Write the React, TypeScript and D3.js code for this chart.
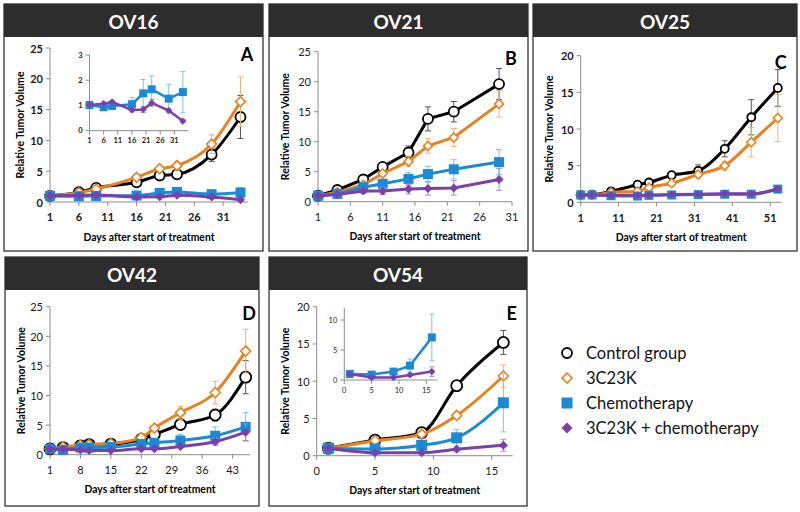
import * as d3 from "d3";

// ---- data ----
const ov16Days = [1, 6, 9, 16, 20, 23, 29, 34];
const ov16Control = [1, 1.6, 2.3, 3.2, 4.3, 4.5, 7.7, 13.8];
const ov16ControlErr = [0, 0.2, 0.3, 0.3, 0.4, 0.4, 1.1, 3.5];
const ov16K = [1, 1.5, 2.1, 4.0, 5.4, 5.9, 9.4, 16.3];
const ov16KErr = [0, 0.2, 0.3, 0.5, 0.5, 0.7, 1.5, 4.0];
const ov16Chemo = [1.02, 0.93, 0.98, 1.05, 1.48, 1.64, 1.27, 1.53];
const ov16ChemoErr = [0.05, 0.08, 0.1, 0.27, 0.55, 0.53, 0.57, 0.82];
const ov16Combo = [1.02, 1.07, 1.14, 0.82, 0.84, 1.1, 0.8, 0.38];
const ov16ComboErr = [0.05, 0.06, 0.06, 0.08, 0.12, 0.13, 0.08, 0.06];

const ov21Days = [1, 4, 8, 11, 15, 18, 22, 29];
const ov21Control = [1, 1.95, 3.7, 5.8, 8.2, 13.8, 15.0, 19.6];
const ov21ControlErr = [0, 0.2, 0.3, 0.4, 1.1, 2.0, 1.7, 2.6];
const ov21K = [1, 1.6, 2.8, 4.7, 6.7, 9.3, 10.7, 16.3];
const ov21KErr = [0, 0.2, 0.3, 0.5, 0.8, 1.2, 1.5, 2.2];
const ov21Chemo = [1, 1.3, 2.4, 3.0, 3.8, 4.6, 5.4, 6.6];
const ov21ChemoErr = [0, 0.2, 0.4, 0.6, 1.1, 1.3, 1.6, 2.1];
const ov21Combo = [1, 1.2, 1.8, 1.8, 2.1, 2.2, 2.3, 3.7];
const ov21ComboErr = [0, 0.2, 0.4, 0.6, 0.8, 1.1, 1.2, 1.8];

const ov25Days = [1, 4, 9, 16, 19, 25, 32, 39, 46, 53];
const ov25Control = [1, 1.05, 1.5, 2.4, 2.7, 3.7, 4.3, 7.3, 11.6, 15.6];
const ov25ControlErr = [0, 0.1, 0.2, 0.3, 0.3, 0.4, 0.8, 1.1, 2.4, 2.5];
const ov25K = [1, 1.0, 1.35, 1.5, 2.0, 2.6, 3.8, 5.0, 8.2, 11.5];
const ov25KErr = [0, 0.1, 0.15, 0.2, 0.3, 0.4, 0.5, 0.6, 2.0, 3.2];
const ov25Chemo = [1, 1, 0.9, 0.85, 0.95, 1.0, 1.05, 1.1, 1.1, 1.8];
const ov25ChemoErr = [0, 0.05, 0.1, 0.1, 0.1, 0.1, 0.1, 0.15, 0.15, 0.2];
const ov25Combo = [1, 1, 0.95, 0.95, 1.0, 1.05, 1.1, 1.15, 1.15, 1.85];
const ov25ComboErr = [0, 0.05, 0.05, 0.05, 0.05, 0.1, 0.1, 0.1, 0.1, 0.15];

const ov42Days = [1, 4, 8, 10, 15, 22, 25, 31, 39, 46];
const ov42Control = [1, 1.2, 1.5, 1.7, 1.8, 2.6, 3.4, 5.1, 6.7, 13.1];
const ov42ControlErr = [0, 0.1, 0.2, 0.2, 0.2, 0.3, 0.4, 0.8, 1.0, 2.8];
const ov42K = [1, 1.3, 1.6, 1.7, 1.9, 2.9, 4.5, 7.1, 10.5, 17.5];
const ov42KErr = [0, 0.1, 0.2, 0.2, 0.2, 0.3, 0.4, 1.1, 1.9, 3.7];
const ov42Chemo = [1, 0.8, 1.2, 1.2, 1.3, 1.8, 2.0, 2.4, 3.2, 4.7];
const ov42ChemoErr = [0, 0.1, 0.2, 0.2, 0.2, 0.3, 0.4, 1.0, 1.5, 2.4];
const ov42Combo = [1, 0.9, 0.8, 0.7, 0.7, 1.0, 1.0, 1.4, 2.2, 3.8];
const ov42ComboErr = [0, 0.1, 0.1, 0.1, 0.1, 0.2, 0.2, 0.3, 0.6, 1.4];

const ov54Days = [1, 5, 9, 12, 16];
const ov54Control = [1, 2.1, 3.1, 9.4, 15.2];
const ov54ControlErr = [0, 0.2, 0.3, 0.7, 1.6];
const ov54K = [1, 2.0, 2.9, 5.4, 10.7];
const ov54KErr = [0, 0.2, 0.3, 0.5, 1.5];
const ov54Chemo = [1, 0.9, 1.4, 2.4, 7.1];
const ov54ChemoErr = [0, 0.1, 0.2, 1.1, 3.9];
const ov54Combo = [1, 0.4, 0.4, 0.85, 1.4];
const ov54ComboErr = [0, 0.1, 0.1, 0.2, 0.8];

const seriesNames = ["Control group", "3C23K", "Chemotherapy", "3C23K + chemotherapy"];

// ---- styles ----
const FONT = "Lato, 'Open Sans', sans-serif";
const AXIS = "#8c8c8c";
const STYLES = [
  { color: "#000000", err: "#555555", marker: "circle" },
  { color: "#E8821E", err: "#EDB57A", marker: "diamondOpen" },
  { color: "#1B8AD3", err: "#7FC2EC", marker: "square" },
  { color: "#7B3FAB", err: "#A88BC6", marker: "diamond" },
];

const Marker = ({ kind, x, y, s, color }) => {
  if (kind === "circle")
    return <circle cx={x} cy={y} r={s} fill="#fff" stroke={color} strokeWidth={1.8} />;
  if (kind === "square")
    return <rect x={x - s} y={y - s} width={2 * s} height={2 * s} fill={color} />;
  const d = `M${x},${y - s}L${x + s},${y}L${x},${y + s}L${x - s},${y}Z`;
  if (kind === "diamondOpen") return <path d={d} fill="#fff" stroke={color} strokeWidth={1.6} />;
  return <path d={d} fill={color} />;
};

// one plotting area (main chart or inset)
const Plot = ({ days, series, which, xDomain, xRange, yDomain, yRange, xTicks, yTicks, bold, fontSize, smooth, sizes, lineWidth, capW }) => {
  const x = d3.scaleLinear().domain(xDomain).range(xRange);
  const y = d3.scaleLinear().domain(yDomain).range(yRange);
  const line = d3
    .line<number>()
    .x((_, i) => x(days[i]))
    .y((v) => y(v))
    .curve(smooth ? d3.curveMonotoneX : d3.curveLinear);
  const x0 = xRange[0];
  const y0 = yRange[0];
  return (
    <g>
      {/* axes */}
      <line x1={x0} x2={x0} y1={y0} y2={yRange[1]} stroke={AXIS} strokeWidth={1} />
      <line x1={x0} x2={xRange[1]} y1={y0} y2={y0} stroke={AXIS} strokeWidth={1} />
      {yTicks.map((t) => (
        <g key={"y" + t}>
          <line x1={x0 - 4} x2={x0} y1={y(t)} y2={y(t)} stroke={AXIS} />
          <text x={x0 - 7} y={y(t)} textAnchor="end" dominantBaseline="central" fontSize={fontSize} fontWeight={bold ? 700 : 400} fill="#1a1a1a">{t}</text>
        </g>
      ))}
      {xTicks.map((t) => (
        <g key={"x" + t}>
          <line x1={x(t)} x2={x(t)} y1={y0} y2={y0 + 4} stroke={AXIS} />
          <text x={x(t)} y={y0 + fontSize * 1.35} textAnchor="middle" dominantBaseline="central" fontSize={fontSize} fontWeight={bold ? 700 : 400} fill="#1a1a1a">{t}</text>
        </g>
      ))}
      {/* series */}
      {which.map((si) => {
        const st = STYLES[si];
        const s = series[si];
        return (
          <g key={si}>
            {s.values.map((v, i) =>
              s.err[i] > 0 ? (
                <g key={i} stroke={st.err} strokeWidth={1}>
                  <line x1={x(days[i])} x2={x(days[i])} y1={y(v - s.err[i])} y2={y(v + s.err[i])} />
                  <line x1={x(days[i]) - capW} x2={x(days[i]) + capW} y1={y(v + s.err[i])} y2={y(v + s.err[i])} />
                  <line x1={x(days[i]) - capW} x2={x(days[i]) + capW} y1={y(v - s.err[i])} y2={y(v - s.err[i])} />
                </g>
              ) : null
            )}
            <path d={line(s.values) || ""} fill="none" stroke={st.color} strokeWidth={lineWidth} />
            {s.values.map((v, i) => (
              <Marker key={i} kind={st.marker} x={x(days[i])} y={y(v)} s={sizes[si]} color={st.color} />
            ))}
          </g>
        );
      })}
    </g>
  );
};

const Panel = ({ p }) => {
  const f = p.frame;
  const yMid = (p.yRange[0] + p.yRange[1]) / 2;
  const xMid = (p.xRange[0] + p.xRange[1]) / 2;
  const series = p.series.map((values, i) => ({ values, err: p.errs[i] }));
  return (
    <g>
      <rect x={f.x} y={f.y} width={f.w} height={f.h} fill="#fff" stroke="#333" strokeWidth={1.3} />
      <rect x={f.x} y={f.y} width={f.w} height={33} fill="#2d2d2d" />
      <text x={f.x + f.w / 2} y={f.y + 17} textAnchor="middle" dominantBaseline="central" fill="#fff" fontSize={19} fontWeight={700}>{p.title}</text>
      <Plot days={p.days} series={series} which={[0, 1, 2, 3]} xDomain={p.xDomain} xRange={p.xRange} yDomain={p.yDomain} yRange={p.yRange} xTicks={p.xTicks} yTicks={p.yTicks} bold={p.bold} fontSize={11} smooth={p.smooth} sizes={p.sizes} lineWidth={3} capW={3} />
      {p.inset && (
        <Plot days={p.days} series={series} which={[2, 3]} xDomain={p.inset.xDomain} xRange={p.inset.xRange} yDomain={p.inset.yDomain} yRange={p.inset.yRange} xTicks={p.inset.xTicks} yTicks={p.inset.yTicks} bold={p.bold} fontSize={7.5} smooth={false} sizes={[3, 3, 4, 3.6]} lineWidth={2.5} capW={2.5} />
      )}
      <text x={p.xRange[1] - 1} y={p.yRange[1] + 6} textAnchor="middle" dominantBaseline="central" fontSize={18} fontWeight={700}>{p.letter}</text>
      <text x={xMid} y={p.yRange[0] + 34} textAnchor="middle" dominantBaseline="central" fontSize={11} fontWeight={700} textLength={131} lengthAdjust="spacingAndGlyphs">Days after start of treatment</text>
      <text transform={`translate(${f.x + 15},${yMid}) rotate(-90)`} textAnchor="middle" dominantBaseline="central" fontSize={11} fontWeight={700} textLength={107} lengthAdjust="spacingAndGlyphs">Relative Tumor Volume</text>
    </g>
  );
};

const PANELS = [
  {
    title: "OV16", letter: "A", frame: { x: 4, y: 4, w: 259, h: 247 },
    days: ov16Days, series: [ov16Control, ov16K, ov16Chemo, ov16Combo], errs: [ov16ControlErr, ov16KErr, ov16ChemoErr, ov16ComboErr],
    xDomain: [1, 35.3], xRange: [50, 248], yDomain: [0, 25], yRange: [202, 48],
    xTicks: [1, 6, 11, 16, 21, 26, 31], yTicks: [0, 5, 10, 15, 20, 25], bold: true, smooth: true, sizes: [5, 5, 5, 4.5],
    inset: { xDomain: [1, 36], xRange: [89.5, 188.5], yDomain: [0, 3], yRange: [130.7, 55], xTicks: [1, 6, 11, 16, 21, 26, 31], yTicks: [0, 1, 2, 3] },
  },
  {
    title: "OV21", letter: "B", frame: { x: 269, y: 4, w: 259, h: 247 },
    days: ov21Days, series: [ov21Control, ov21K, ov21Chemo, ov21Combo], errs: [ov21ControlErr, ov21KErr, ov21ChemoErr, ov21ComboErr],
    xDomain: [1, 31], xRange: [318, 512], yDomain: [0, 25], yRange: [201.7, 51.7],
    xTicks: [1, 6, 11, 16, 21, 26, 31], yTicks: [0, 5, 10, 15, 20, 25], bold: false, smooth: false, sizes: [5, 4.5, 5, 4.5],
  },
  {
    title: "OV25", letter: "C", frame: { x: 533, y: 4, w: 264, h: 247 },
    days: ov25Days, series: [ov25Control, ov25K, ov25Chemo, ov25Combo], errs: [ov25ControlErr, ov25KErr, ov25ChemoErr, ov25ComboErr],
    xDomain: [1, 54], xRange: [580.7, 781.6], yDomain: [0, 20], yRange: [202.3, 55.7],
    xTicks: [1, 11, 21, 31, 41, 51], yTicks: [0, 5, 10, 15, 20], bold: true, smooth: true, sizes: [4, 4.5, 4.5, 4],
  },
  {
    title: "OV42", letter: "D", frame: { x: 5, y: 257, w: 254, h: 249 },
    days: ov42Days, series: [ov42Control, ov42K, ov42Chemo, ov42Combo], errs: [ov42ControlErr, ov42KErr, ov42ChemoErr, ov42ComboErr],
    xDomain: [1, 47], xRange: [50, 250], yDomain: [0, 25], yRange: [454.7, 306.7],
    xTicks: [1, 8, 15, 22, 29, 36, 43], yTicks: [0, 5, 10, 15, 20, 25], bold: false, smooth: true, sizes: [5.5, 5, 5, 4.5],
  },
  {
    title: "OV54", letter: "E", frame: { x: 269, y: 257, w: 258, h: 249 },
    days: ov54Days, series: [ov54Control, ov54K, ov54Chemo, ov54Combo], errs: [ov54ControlErr, ov54KErr, ov54ChemoErr, ov54ComboErr],
    xDomain: [0, 16.8], xRange: [316.7, 512.7], yDomain: [0, 20], yRange: [455.7, 306.7],
    xTicks: [0, 5, 10, 15], yTicks: [0, 5, 10, 15, 20], bold: false, smooth: true, sizes: [5.5, 5, 5.5, 4.5],
    inset: { xDomain: [0, 17], xRange: [344.3, 437.3], yDomain: [0, 12], yRange: [380, 308], xTicks: [0, 5, 10, 15], yTicks: [0, 5, 10] },
  },
];

const App = () => {
  const legendY = d3.scalePoint().domain(seriesNames).range([353, 428]);
  const legendSizes = [5, 5, 5.5, 5.5];
  return (
    <svg width={800} height={512} style={{ position: "absolute", left: 0, top: 0, fontFamily: FONT }}>
      <rect width={800} height={512} fill="#fff" />
      {PANELS.map((p) => (
        <Panel key={p.title} p={p} />
      ))}
      <g>
        {seriesNames.map((name, i) => (
          <g key={name}>
            <Marker kind={STYLES[i].marker} x={567} y={legendY(name)} s={legendSizes[i]} color={STYLES[i].color} />
            <text x={586} y={legendY(name)} dominantBaseline="central" fontSize={16.5} fill="#111">{name}</text>
          </g>
        ))}
      </g>
    </svg>
  );
};

export default App;
